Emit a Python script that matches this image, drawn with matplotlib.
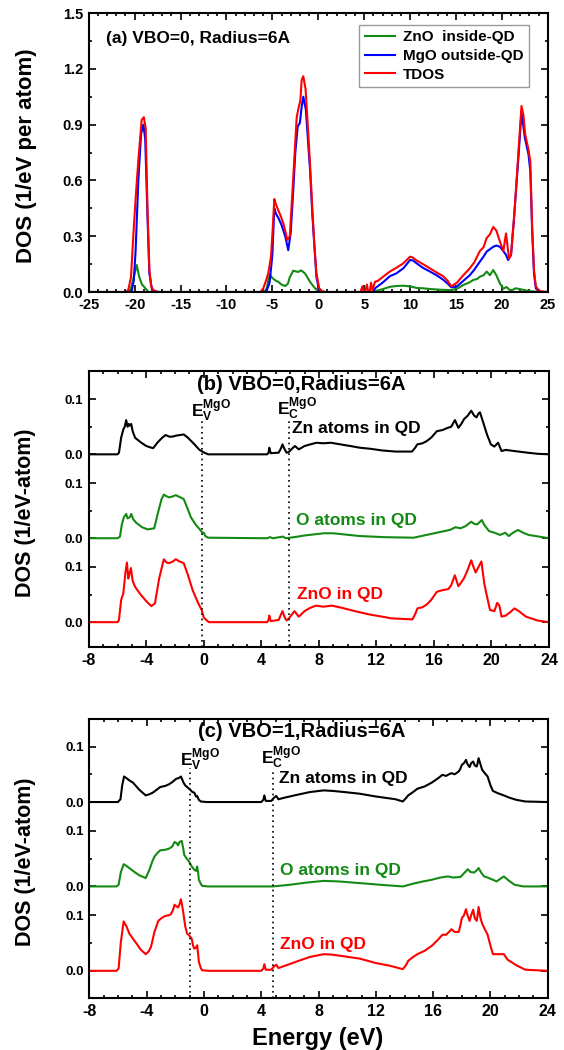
import numpy as np
import matplotlib
matplotlib.use("Agg")
import matplotlib.pyplot as plt
from matplotlib.ticker import MultipleLocator, FixedLocator

plt.rcParams["font.family"] = ["Liberation Sans", "DejaVu Sans"]
plt.rcParams["font.weight"] = "bold"
plt.rcParams["axes.labelweight"] = "bold"
plt.rcParams["axes.unicode_minus"] = False
plt.rcParams["mathtext.fontset"] = "custom"
plt.rcParams["mathtext.rm"] = "Liberation Sans:bold"
plt.rcParams["mathtext.bf"] = "Liberation Sans:bold"
plt.rcParams["mathtext.it"] = "Liberation Sans:bold"

# ---- panel (a): (energy eV, DOS) ----
a_zno = [(-25, 0), (-20.6, 0), (-20.4, 0.02), (-20.1, 0.08), (-19.78, 0.145), (-19.5, 0.08), (-19.2, 0.04),
         (-19.0, 0.03), (-18.5, 0.0), (-5.9, 0), (-5.6, 0.02), (-5.45, 0.06), (-5.27, 0.095), (-5.0, 0.075),
         (-4.6, 0.06), (-4.36, 0.055), (-4.0, 0.04), (-3.6, 0.032), (-3.3, 0.045), (-3.1, 0.08), (-2.72, 0.115),
         (-2.4, 0.11), (-2.17, 0.108), (-1.9, 0.116), (-1.7, 0.11), (-1.45, 0.1), (-1.2, 0.08), (-0.9, 0.055),
         (-0.6, 0.035), (-0.35, 0.02), (0.0, 0.005), (0.4, 0), (6.0, 0), (6.18, 0.005), (7.0, 0.015), (7.8, 0.028),
         (8.5, 0.032), (9.26, 0.034), (10.0, 0.03), (10.7, 0.022), (11.4, 0.02), (12.2, 0.016), (13.4, 0.012),
         (14.5, 0.01), (15.2, 0.02), (15.8, 0.038), (16.4, 0.05), (16.9, 0.065), (17.3, 0.07), (17.6, 0.082),
         (18.0, 0.09), (18.34, 0.11), (18.7, 0.09), (19.06, 0.118), (19.4, 0.09), (19.8, 0.045), (20.16, 0.018),
         (20.5, 0.027), (20.9, 0.009), (21.2, 0.012), (21.5, 0.02), (22.0, 0.015), (22.5, 0.01), (23.0, 0.005),
         (24.0, 0), (25, 0)]
a_mgo = [(-25, 0), (-20.5, 0), (-20.3, 0.01), (-20.1, 0.06), (-19.9, 0.22), (-19.6, 0.6), (-19.3, 0.85),
         (-19.05, 0.9), (-18.85, 0.82), (-18.6, 0.4), (-18.4, 0.1), (-18.1, 0.01), (-17.5, 0),
         (-5.8, 0), (-5.6, 0.01), (-5.3, 0.05), (-5.0, 0.2), (-4.79, 0.45), (-4.6, 0.42), (-4.36, 0.4),
         (-4.0, 0.36), (-3.6, 0.3), (-3.27, 0.225), (-3.0, 0.32), (-2.72, 0.55), (-2.5, 0.75), (-2.24, 0.89),
         (-2.0, 0.91), (-1.8, 1.0), (-1.63, 1.05), (-1.35, 0.98), (-1.1, 0.8), (-0.9, 0.66), (-0.65, 0.42),
         (-0.43, 0.25), (-0.2, 0.08), (0.1, 0.01), (0.5, 0),
         (6.0, 0), (6.18, 0.02), (7.0, 0.05), (7.8, 0.085), (8.5, 0.1), (9.26, 0.127), (10.0, 0.172),
         (10.3, 0.17), (10.7, 0.155), (11.4, 0.13), (12.17, 0.11), (12.9, 0.09), (13.6, 0.066), (14.1, 0.045),
         (14.5, 0.025), (15.1, 0.03), (15.8, 0.06), (16.5, 0.09), (17.0, 0.12), (17.6, 0.163), (18.0, 0.19),
         (18.34, 0.217), (18.7, 0.23), (19.06, 0.243), (19.4, 0.25), (19.8, 0.243), (20.2, 0.217), (20.45, 0.2),
         (20.68, 0.172), (21.0, 0.2), (21.3, 0.38), (21.8, 0.72), (22.14, 0.97), (22.5, 0.83), (22.9, 0.74),
         (23.1, 0.65), (23.3, 0.33), (23.5, 0.1), (23.7, 0.02), (24.1, 0), (25, 0)]
a_tdos = [(-25, 0), (-21.0, 0), (-20.7, 0.01), (-20.4, 0.08), (-20.15, 0.3), (-19.9, 0.5), (-19.6, 0.71),
          (-19.24, 0.925), (-19.0, 0.94), (-18.8, 0.88), (-18.6, 0.44), (-18.4, 0.12), (-18.2, 0.03),
          (-17.95, 0.01), (-17.5, 0),
          (-6.3, 0), (-5.99, 0.02), (-5.7, 0.06), (-5.45, 0.1), (-5.15, 0.19), (-4.95, 0.35), (-4.79, 0.50),
          (-4.6, 0.47), (-4.36, 0.44), (-4.1, 0.41), (-3.81, 0.37), (-3.55, 0.32), (-3.38, 0.28), (-3.1, 0.3),
          (-2.72, 0.62), (-2.35, 0.94), (-2.1, 1.0), (-1.95, 1.03), (-1.81, 1.14), (-1.63, 1.16), (-1.38, 1.09),
          (-1.15, 0.9), (-0.9, 0.69), (-0.65, 0.45), (-0.43, 0.26), (-0.2, 0.1), (0.1, 0.02), (0.4, 0.005), (0.8, 0),
          (4.4, 0), (4.6, 0.0), (4.8, 0.03), (4.95, 0.0), (5.1, 0.0), (5.3, 0.04), (5.45, 0.0), (5.6, 0.0),
          (5.75, 0.05), (5.9, 0.01), (6.18, 0.055), (6.5, 0.06), (7.0, 0.08), (7.8, 0.11), (8.5, 0.13),
          (9.26, 0.154), (10.0, 0.19), (10.3, 0.185), (10.7, 0.17), (11.4, 0.15), (12.17, 0.127), (12.9, 0.105),
          (13.6, 0.085), (14.1, 0.06), (14.5, 0.03), (15.1, 0.05), (15.8, 0.09), (16.5, 0.127), (17.0, 0.16),
          (17.6, 0.22), (18.0, 0.24), (18.34, 0.29), (18.7, 0.31), (19.06, 0.35), (19.4, 0.33), (19.8, 0.27),
          (20.16, 0.22), (20.45, 0.315), (20.78, 0.18), (21.0, 0.2), (21.36, 0.42), (21.8, 0.75), (22.14, 1.0),
          (22.35, 0.95), (22.53, 0.85), (22.92, 0.76), (23.1, 0.7), (23.3, 0.35), (23.5, 0.12), (23.7, 0.03),
          (24.1, 0.005), (25, 0)]

# ---- panel (b): VBO=0 ----
b_zn = [(-8, 0), (-6.0, 0), (-5.9, 0.003), (-5.75, 0.03), (-5.6, 0.045), (-5.5, 0.05), (-5.4, 0.062),
        (-5.3, 0.05), (-5.22, 0.055), (-5.15, 0.052), (-5.05, 0.055), (-4.95, 0.042), (-4.78, 0.03),
        (-4.4, 0.022), (-4.0, 0.015), (-3.53, 0.011), (-3.2, 0.022), (-2.9, 0.03), (-2.66, 0.035), (-2.4, 0.032),
        (-2.2, 0.032), (-1.9, 0.034), (-1.4, 0.036), (-1.1, 0.03), (-0.65, 0.018), (-0.3, 0.008), (0.03, 0.003),
        (0.3, 0), (4.4, 0), (4.5, 0.003), (4.55, 0.012), (4.65, 0.002), (5.2, 0.003), (5.35, 0.01), (5.47, 0.018),
        (5.6, 0.01), (5.75, 0.003), (5.9, 0.004), (6.2, 0.012), (6.34, 0.015), (6.6, 0.009), (7.0, 0.015),
        (7.4, 0.018), (7.84, 0.021), (8.3, 0.02), (8.84, 0.021), (9.5, 0.018), (10.2, 0.015), (10.84, 0.012),
        (11.6, 0.01), (12.4, 0.007), (13.34, 0.005), (14.47, 0.005), (14.7, 0.012), (14.84, 0.018), (15.2, 0.02),
        (15.5, 0.024), (15.8, 0.03), (16.21, 0.042), (16.6, 0.044), (16.96, 0.048), (17.2, 0.05), (17.46, 0.062),
        (17.7, 0.048), (17.9, 0.055), (18.1, 0.064), (18.35, 0.07), (18.59, 0.079), (18.8, 0.07), (18.96, 0.067),
        (19.1, 0.074), (19.2, 0.076), (19.3, 0.068), (19.46, 0.055), (19.7, 0.035), (19.96, 0.018), (20.2, 0.014),
        (20.46, 0.021), (20.7, 0.006), (21.0, 0.008), (21.58, 0.006), (22.5, 0.003), (23.2, 0.001), (24, 0)]
b_o = [(-8, 0), (-6.0, 0), (-5.83, 0.003), (-5.7, 0.025), (-5.56, 0.038), (-5.4, 0.044), (-5.3, 0.036),
       (-5.15, 0.038), (-5.05, 0.044), (-4.9, 0.034), (-4.7, 0.028), (-4.3, 0.02), (-3.9, 0.016), (-3.45, 0.018),
       (-3.2, 0.045), (-2.95, 0.07), (-2.78, 0.079), (-2.6, 0.076), (-2.4, 0.074), (-2.15, 0.076), (-1.95, 0.078),
       (-1.7, 0.075), (-1.4, 0.071), (-1.15, 0.055), (-0.9, 0.038), (-0.55, 0.024), (-0.28, 0.016), (-0.1, 0.01),
       (0.0, 0.01), (0.1, 0.004), (0.3, 0.001), (4.4, 0), (4.6, 0.002), (4.8, 0), (5.5, 0.003), (5.7, 0),
       (6.3, 0.002), (7.0, 0.005), (8.34, 0.009), (9.0, 0.009), (10.84, 0.004), (12.5, 0.002), (14.6, 0.001),
       (15.3, 0.005), (16.2, 0.01), (17.1, 0.015), (17.5, 0.02), (17.84, 0.018), (18.2, 0.022), (18.6, 0.03),
       (18.8, 0.026), (19.0, 0.025), (19.33, 0.033), (19.5, 0.024), (19.83, 0.013), (20.2, 0.01), (20.6, 0.006),
       (20.96, 0.01), (21.2, 0.004), (21.5, 0.01), (21.84, 0.015), (22.2, 0.01), (22.58, 0.006), (23.3, 0.003),
       (24, 0)]
b_zno = [(-8, 0), (-6.0, 0), (-5.9, 0.004), (-5.75, 0.04), (-5.6, 0.052), (-5.45, 0.09), (-5.35, 0.108),
         (-5.25, 0.079), (-5.15, 0.09), (-5.07, 0.098), (-4.95, 0.075), (-4.78, 0.064), (-4.4, 0.05), (-4.0, 0.038),
         (-3.65, 0.029), (-3.4, 0.034), (-3.1, 0.08), (-2.78, 0.114), (-2.6, 0.108), (-2.4, 0.107), (-2.15, 0.11),
         (-1.95, 0.114), (-1.7, 0.11), (-1.4, 0.107), (-1.1, 0.085), (-0.78, 0.058), (-0.4, 0.035), (-0.15, 0.022),
         (0.0, 0.008), (0.35, 0), (4.4, 0), (4.5, 0.004), (4.55, 0.012), (4.65, 0.002), (5.2, 0.004), (5.35, 0.013),
         (5.47, 0.02), (5.6, 0.01), (5.75, 0.003), (5.95, 0.008), (6.3, 0.02), (6.6, 0.01), (7.0, 0.02),
         (7.4, 0.026), (7.8, 0.03), (8.3, 0.028), (8.9, 0.03), (9.6, 0.026), (10.5, 0.02), (11.5, 0.014),
         (12.4, 0.01), (13.0, 0.007), (14.5, 0.005), (14.7, 0.015), (14.85, 0.025), (15.2, 0.027), (15.5, 0.032),
         (15.8, 0.04), (16.2, 0.055), (16.6, 0.058), (17.0, 0.06), (17.2, 0.067), (17.45, 0.085), (17.7, 0.065),
         (17.9, 0.072), (18.1, 0.08), (18.35, 0.095), (18.59, 0.112), (18.75, 0.1), (18.9, 0.09), (19.1, 0.1),
         (19.3, 0.11), (19.4, 0.09), (19.5, 0.07), (19.7, 0.045), (19.9, 0.022), (20.2, 0.02), (20.4, 0.035),
         (20.55, 0.03), (20.7, 0.01), (21.0, 0.012), (21.3, 0.018), (21.6, 0.025), (21.9, 0.02), (22.4, 0.01),
         (23.2, 0.003), (24, 0)]

# ---- panel (c): VBO=1 ----
c_zn = [(-8, 0), (-6.0, 0), (-5.82, 0.005), (-5.7, 0.03), (-5.57, 0.046), (-5.4, 0.043), (-5.2, 0.039),
        (-4.95, 0.035), (-4.5, 0.022), (-4.06, 0.012), (-3.8, 0.014), (-3.56, 0.017), (-3.3, 0.022), (-3.05, 0.027),
        (-2.7, 0.029), (-2.43, 0.032), (-2.2, 0.036), (-1.93, 0.042), (-1.75, 0.043), (-1.6, 0.046), (-1.5, 0.04),
        (-1.42, 0.035), (-1.3, 0.03), (-1.17, 0.027), (-0.95, 0.022), (-0.8, 0.018), (-0.67, 0.017), (-0.55, 0.01),
        (-0.47, 0.011), (-0.35, 0.004), (-0.22, 0.001), (0.2, 0), (4.0, 0), (4.15, 0.004), (4.22, 0.012),
        (4.32, 0.002), (4.7, 0.002), (4.9, 0.008), (5.05, 0.011), (5.2, 0.005), (5.65, 0.008), (6.5, 0.013),
        (7.4, 0.018), (8.36, 0.021), (9.0, 0.02), (9.8, 0.018), (10.87, 0.015), (12.0, 0.01), (13.38, 0.005),
        (13.88, 0.001), (14.1, 0.007), (14.26, 0.012), (14.6, 0.018), (14.9, 0.024), (15.4, 0.028), (15.9, 0.035),
        (16.3, 0.042), (16.65, 0.049), (16.9, 0.047), (17.1, 0.05), (17.28, 0.052), (17.5, 0.05), (17.78, 0.055),
        (17.9, 0.06), (18.0, 0.067), (18.15, 0.07), (18.29, 0.076), (18.4, 0.068), (18.54, 0.063), (18.65, 0.07),
        (18.79, 0.073), (18.9, 0.066), (19.04, 0.064), (19.1, 0.07), (19.17, 0.079), (19.3, 0.068), (19.42, 0.058),
        (19.6, 0.052), (19.8, 0.046), (20.0, 0.03), (20.17, 0.02), (20.5, 0.016), (20.93, 0.012), (21.3, 0.008),
        (21.8, 0.004), (22.43, 0.001), (24, 0)]
c_o = [(-8, 0), (-6.1, 0), (-5.95, 0.003), (-5.8, 0.025), (-5.6, 0.04), (-5.4, 0.037), (-5.2, 0.033),
       (-4.9, 0.027), (-4.5, 0.02), (-4.06, 0.015), (-3.8, 0.03), (-3.6, 0.045), (-3.44, 0.054), (-3.25, 0.06),
       (-3.05, 0.065), (-2.7, 0.066), (-2.43, 0.068), (-2.2, 0.072), (-2.05, 0.08), (-1.9, 0.078), (-1.8, 0.074),
       (-1.7, 0.08), (-1.55, 0.082), (-1.45, 0.07), (-1.37, 0.057), (-1.25, 0.052), (-1.04, 0.045), (-0.85, 0.036),
       (-0.67, 0.03), (-0.55, 0.028), (-0.47, 0.036), (-0.4, 0.025), (-0.35, 0.012), (-0.2, 0.004),
       (-0.12, 0.001), (0.3, 0), (4.0, 0), (4.8, 0), (6.0, 0.003), (7.2, 0.007), (8.36, 0.01), (9.4, 0.009),
       (10.87, 0.006), (12.3, 0.003), (13.9, 0), (14.6, 0.005), (15.3, 0.009), (15.9, 0.012), (16.5, 0.016),
       (17.03, 0.018), (17.4, 0.016), (17.9, 0.017), (18.2, 0.025), (18.42, 0.031), (18.6, 0.026), (18.85, 0.025),
       (19.0, 0.028), (19.17, 0.033), (19.35, 0.025), (19.55, 0.018), (19.8, 0.016), (20.17, 0.012),
       (20.42, 0.009), (20.7, 0.014), (20.93, 0.018), (21.3, 0.01), (21.68, 0.003), (22.3, 0), (24, 0)]
c_zno = [(-8, 0), (-6.1, 0), (-5.95, 0.004), (-5.8, 0.05), (-5.6, 0.089), (-5.4, 0.08), (-5.2, 0.067),
         (-4.95, 0.058), (-4.7, 0.049), (-4.4, 0.038), (-4.06, 0.03), (-3.85, 0.035), (-3.69, 0.043), (-3.45, 0.07),
         (-3.18, 0.09), (-2.9, 0.096), (-2.68, 0.099), (-2.45, 0.1), (-2.3, 0.102), (-2.15, 0.11), (-2.05, 0.119),
         (-1.9, 0.116), (-1.8, 0.114), (-1.7, 0.12), (-1.6, 0.129), (-1.5, 0.115), (-1.42, 0.102), (-1.3, 0.08),
         (-1.17, 0.067), (-1.0, 0.063), (-0.85, 0.058), (-0.75, 0.045), (-0.67, 0.04), (-0.55, 0.042),
         (-0.47, 0.046), (-0.4, 0.03), (-0.35, 0.016), (-0.2, 0.004), (-0.12, 0.001), (0.3, 0), (4.0, 0),
         (4.15, 0.004), (4.22, 0.012), (4.32, 0.002), (4.7, 0.002), (4.9, 0.008), (5.05, 0.011), (5.2, 0.005),
         (5.65, 0.009), (6.5, 0.017), (7.4, 0.025), (8.36, 0.03), (9.0, 0.029), (9.8, 0.026), (10.87, 0.022),
         (12.0, 0.014), (13.0, 0.009), (13.88, 0.003), (14.1, 0.01), (14.26, 0.018), (14.6, 0.025), (14.9, 0.03),
         (15.4, 0.036), (15.9, 0.045), (16.3, 0.055), (16.65, 0.065), (16.9, 0.065), (17.1, 0.07), (17.28, 0.075),
         (17.5, 0.07), (17.78, 0.07), (17.9, 0.082), (18.0, 0.095), (18.15, 0.1), (18.29, 0.111), (18.4, 0.1),
         (18.54, 0.09), (18.65, 0.1), (18.79, 0.11), (18.9, 0.095), (19.04, 0.09), (19.1, 0.1), (19.17, 0.115),
         (19.3, 0.095), (19.42, 0.085), (19.6, 0.075), (19.8, 0.065), (20.0, 0.045), (20.17, 0.03), (20.5, 0.03),
         (20.93, 0.03), (21.2, 0.02), (21.8, 0.01), (22.43, 0.002), (24, 0)]

legend_labels = ["ZnO  inside-QD", "MgO outside-QD", "TDOS"]
stack_labels = ["Zn atoms in QD", "O atoms in QD", "ZnO in QD"]
stack_offsets = [0.304, 0.152, 0.0]      # vertical shift of each curve in (b), (c)
band_edges_b = [-0.1, 5.9]               # E_V, E_C of MgO, VBO=0
band_edges_c = [-1.0, 4.85]              # E_V, E_C of MgO, VBO=1

green = "#138a13"
colors = [green, "#0000ff", "#ff0000"]
stack_colors = ["black", green, "#ff0000"]


def xy(pts):
    arr = np.array(pts, dtype=float)
    return arr[:, 0], arr[:, 1]


def style_axes(ax, xsize, ysize):
    for s in ax.spines.values():
        s.set_linewidth(1.5)
    ax.tick_params(which="both", direction="in", top=True, right=True, width=1.2)
    ax.tick_params(which="major", length=5)
    ax.tick_params(which="minor", length=2.5)
    ax.tick_params(axis="x", labelsize=xsize, pad=4)
    ax.tick_params(axis="y", labelsize=ysize, pad=4)


fig = plt.figure(figsize=(5.64, 10.5), dpi=100)

# ---------------- (a) ----------------
ax1 = fig.add_axes([0.1574, 0.7219, 0.8138, 0.2657])
for pts, c, lab in zip([a_zno, a_mgo, a_tdos], colors, legend_labels):
    e, d = xy(pts)
    ax1.plot(e, d, color=c, lw=1.5, label=lab)
ax1.set_xlim(-25, 25)
ax1.set_ylim(0, 1.5)
ax1.xaxis.set_major_locator(MultipleLocator(5))
ax1.xaxis.set_minor_locator(MultipleLocator(1))
ax1.yaxis.set_major_locator(MultipleLocator(0.3))
ax1.yaxis.set_minor_locator(MultipleLocator(0.15))
ax1.yaxis.set_major_formatter(plt.FormatStrFormatter("%.1f"))
style_axes(ax1, 10.5, 10.5)
ax1.text(-23.1, 1.364, "(a) VBO=0, Radius=6A", fontsize=12.5, fontweight="bold", va="center")
leg = ax1.legend(loc="upper right", bbox_to_anchor=(0.959, 0.957), borderaxespad=0, fontsize=11,
                 fancybox=False, edgecolor="#999999", framealpha=1, handlelength=2.0, borderpad=0.35,
                 labelspacing=0.3, handletextpad=0.5)
leg.get_frame().set_linewidth(1.0)
fig.text(27 / 564, 1 - 156 / 1050, "DOS (1/eV per atom)", rotation=90, ha="center", va="center",
         fontsize=16, fontweight="bold")


# ---------------- (b) and (c) ----------------
def stack_panel(rect, curves, edges, title, ev_x, ec_x, text_x, text_y, ylim):
    ax = fig.add_axes(rect)
    for pts, off, c in zip(curves, stack_offsets, stack_colors):
        e, d = xy(pts)
        ax.plot(e, d + off, color=c, lw=1.5)
    ax.set_xlim(-8, 24)
    ax.set_ylim(*ylim)
    ax.xaxis.set_major_locator(MultipleLocator(4))
    ax.xaxis.set_minor_locator(MultipleLocator(1))
    majors = sorted([o for o in stack_offsets] + [o + 0.1 for o in stack_offsets])
    ax.yaxis.set_major_locator(FixedLocator(majors))
    ax.yaxis.set_minor_locator(FixedLocator([o + 0.05 for o in stack_offsets]))
    ax.set_yticklabels(["0.0" if i % 2 == 0 else "0.1" for i in range(len(majors))])
    style_axes(ax, 11.5, 9.5)
    ax.vlines(edges, ylim[0], [0.366, 0.364], colors="black", linestyles=(0, (1, 2.2)), lw=1.2)
    ax.text(np.mean(ax.get_xlim()) - 1.2, 0.431, title, fontsize=14.5, fontweight="bold",
            ha="center", va="center")
    ax.text(ev_x, text_y[0], r"$\mathbf{E_V^{MgO}}$", fontsize=12.5, ha="left", va="baseline")
    ax.text(ec_x, text_y[0] + 0.004, r"$\mathbf{E_C^{MgO}}$", fontsize=12.5, ha="left", va="baseline")
    for lab, c, tx, ty in zip(stack_labels, stack_colors, text_x, text_y[1:]):
        ax.text(tx, ty, lab, color=c, fontsize=12.5, fontweight="bold", ha="left", va="center")
    return ax


ax2 = stack_panel([0.1574, 0.3838, 0.816, 0.2629], [b_zn, b_o, b_zno], band_edges_b,
                  "(b) VBO=0,Radius=6A", -0.9, 5.07, [6.1, 6.38, 6.45],
                  [0.371, 0.35, 0.185, 0.05], (-0.045, 0.455))
ax3 = stack_panel([0.1582, 0.0495, 0.8131, 0.2657], [c_zn, c_o, c_zno], band_edges_c,
                  "(c) VBO=1,Radius=6A", -1.67, 3.97, [5.25, 5.33, 5.33],
                  [0.369, 0.347, 0.181, 0.047], (-0.049, 0.4535))

fig.text(26 / 564, 1 - 513 / 1050, "DOS (1/eV-atom)", rotation=90, ha="center", va="center",
         fontsize=15.5, fontweight="bold")
fig.text(26 / 564, 1 - 862 / 1050, "DOS (1/eV-atom)", rotation=90, ha="center", va="center",
         fontsize=15.5, fontweight="bold")
fig.text(318 / 564, 1 - 1038 / 1050, "Energy (eV)", ha="center", va="center", fontsize=17,
         fontweight="bold")

fig.savefig("out.png", dpi=100)
